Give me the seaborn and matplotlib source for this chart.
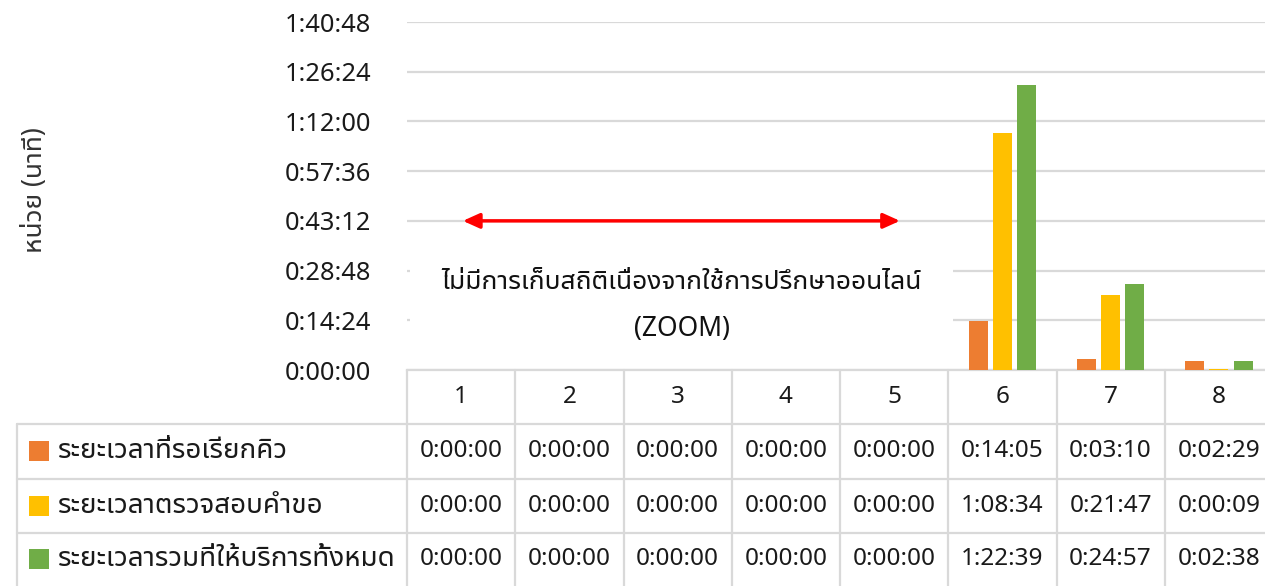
import numpy as np
import pandas as pd
import matplotlib
matplotlib.use("Agg")
import matplotlib.pyplot as plt
import matplotlib.patches as mpatches
import seaborn as sns
from matplotlib import font_manager
from matplotlib.ft2font import FT2Font

# --- data ---
categories = ["1", "2", "3", "4", "5", "6", "7", "8"]
series_names = ["ระยะเวลาที่รอเรียกคิว", "ระยะเวลาตรวจสอบคำขอ", "ระยะเวลารวมที่ให้บริการทั้งหมด"]
wait_queue = ["0:00:00", "0:00:00", "0:00:00", "0:00:00", "0:00:00", "0:14:05", "0:03:10", "0:02:29"]
check_request = ["0:00:00", "0:00:00", "0:00:00", "0:00:00", "0:00:00", "1:08:34", "0:21:47", "0:00:09"]
total_service = ["0:00:00", "0:00:00", "0:00:00", "0:00:00", "0:00:00", "1:22:39", "0:24:57", "0:02:38"]
colors = ["#ED7D31", "#FFC000", "#70AD47"]
ylabel = "หน่วย (นาที)"
note_line1 = "ไม่มีการเก็บสถิติเนื่องจากใช้การปรึกษาออนไลน์"
note_line2 = "(ZOOM)"


def to_sec(s):
    h, m, sec = s.split(":")
    return int(h) * 3600 + int(m) * 60 + int(sec)


def fmt_sec(v, pos=None):
    v = int(round(v))
    return f"{v // 3600}:{(v % 3600) // 60:02d}:{v % 60:02d}"


def find_thai_font():
    found = []
    for f in font_manager.fontManager.ttflist:
        try:
            if 0x0E01 in FT2Font(f.fname).get_charmap():
                found.append(f.name)
        except Exception:
            pass
    found = sorted(set(found))
    for key in ["Noto Sans Thai UI", "Noto Sans Thai", "Thai", "Sans"]:
        for n in found:
            if key in n and "Looped" not in n:
                return n
    return found[0] if found else None


thai_font = find_thai_font()

all_series = [wait_queue, check_request, total_service]
df = pd.DataFrame({
    "cat": np.tile(categories, 3),
    "series": np.repeat(series_names, len(categories)),
    "seconds": [to_sec(s) for ser in all_series for s in ser],
})

sns.set_style("white")
fams = ([thai_font] if thai_font else []) + ["Noto Sans", "DejaVu Sans"]
plt.rcParams["font.family"] = fams

fig = plt.figure(figsize=(12.65, 5.86), dpi=100)
W, H = 1265, 586
ax_left, ax_right, ax_top, ax_bot = 407, 1273, 22, 370
ax = fig.add_axes([ax_left / W, 1 - ax_bot / H, (ax_right - ax_left) / W, (ax_bot - ax_top) / H])

sns.barplot(data=df, x="cat", y="seconds", hue="series", palette=colors, saturation=1,
            width=0.675, gap=0.22, ax=ax, legend=False, zorder=3, linewidth=0)

grid_c = "#d9d9d9"
txt_c = "#1a1a1a"
ax.set_xlim(-0.5, len(categories) - 0.5)
ax.set_ylim(0, 6048)
ax.set_yticks(np.arange(0, 6049, 864))
ax.yaxis.set_major_formatter(plt.FuncFormatter(fmt_sec))
ax.tick_params(axis="y", length=0, pad=26, labelsize=18.3, labelcolor=txt_c)
ax.set_xticks([])
ax.set_xlabel("")
ax.set_ylabel("")
ax.yaxis.grid(True, color=grid_c, lw=1.6, zorder=0)
ax.set_axisbelow(True)
for s in ["left", "right", "top"]:
    ax.spines[s].set_visible(False)
ax.spines["bottom"].set_color(grid_c)
ax.spines["bottom"].set_linewidth(1.6)

# white box behind the note, arrow and note text
ax.add_patch(mpatches.Rectangle((-0.47, 260), 5.01, 1950, fc="white", ec="none", zorder=1.5))
ax.annotate("", xy=(4.08, 2592), xytext=(-0.01, 2592),
            arrowprops=dict(arrowstyle="<|-|>,head_length=1.0,head_width=0.45", color="#ff0000", lw=2.5),
            zorder=4)
ax.text(2.04, 1530, note_line1, ha="center", va="center", fontsize=19, fontweight="bold", color="#111111", zorder=4)
ax.text(2.04, 720, note_line2, ha="center", va="center", fontsize=19, fontweight="bold", color="#111111", zorder=4)

fig.text(35 / W, 1 - 190 / H, ylabel, rotation=90, ha="center", va="center", fontsize=19, color="#333333")

# data table below the axes
tr = ax.get_xaxis_transform()
axt = ax.transAxes
row_px = [370, 424, 479, 533, 590]
row_y = [(ax_bot - p) / (ax_bot - ax_top) for p in row_px]
lab_x0 = (17 - ax_left) / (ax_right - ax_left)
for yb in row_y[1:]:
    ax.plot([lab_x0, 1], [yb, yb], transform=axt, color=grid_c, lw=1.6, clip_on=False)
for k in range(len(categories) + 1):
    ax.plot([k - 0.5, k - 0.5], [row_y[0], row_y[-1]], transform=tr, color=grid_c, lw=1.6, clip_on=False)
ax.plot([lab_x0, lab_x0], [row_y[1], row_y[-1]], transform=axt, color=grid_c, lw=1.6, clip_on=False)

row_centers_px = [397, 451, 506, 559]
for k, c in enumerate(categories):
    ax.text(k, (ax_bot - row_centers_px[0]) / (ax_bot - ax_top), c, transform=tr,
            ha="center", va="center", fontsize=17.5, color=txt_c)
for r, ser in enumerate(all_series):
    cy = row_centers_px[r + 1]
    yc = (ax_bot - cy) / (ax_bot - ax_top)
    for k, v in enumerate(ser):
        ax.text(k, yc, v, transform=tr, ha="center", va="center", fontsize=17.5, color=txt_c)
    fig.patches.append(mpatches.Rectangle((29 / W, 1 - (cy + 10) / H), 20 / W, 20 / H,
                                          transform=fig.transFigure, fc=colors[r], ec="none"))
    fig.text(58 / W, 1 - cy / H, series_names[r], ha="left", va="center",
             fontsize=20, color=txt_c)

fig.savefig("out.png", dpi=100)
